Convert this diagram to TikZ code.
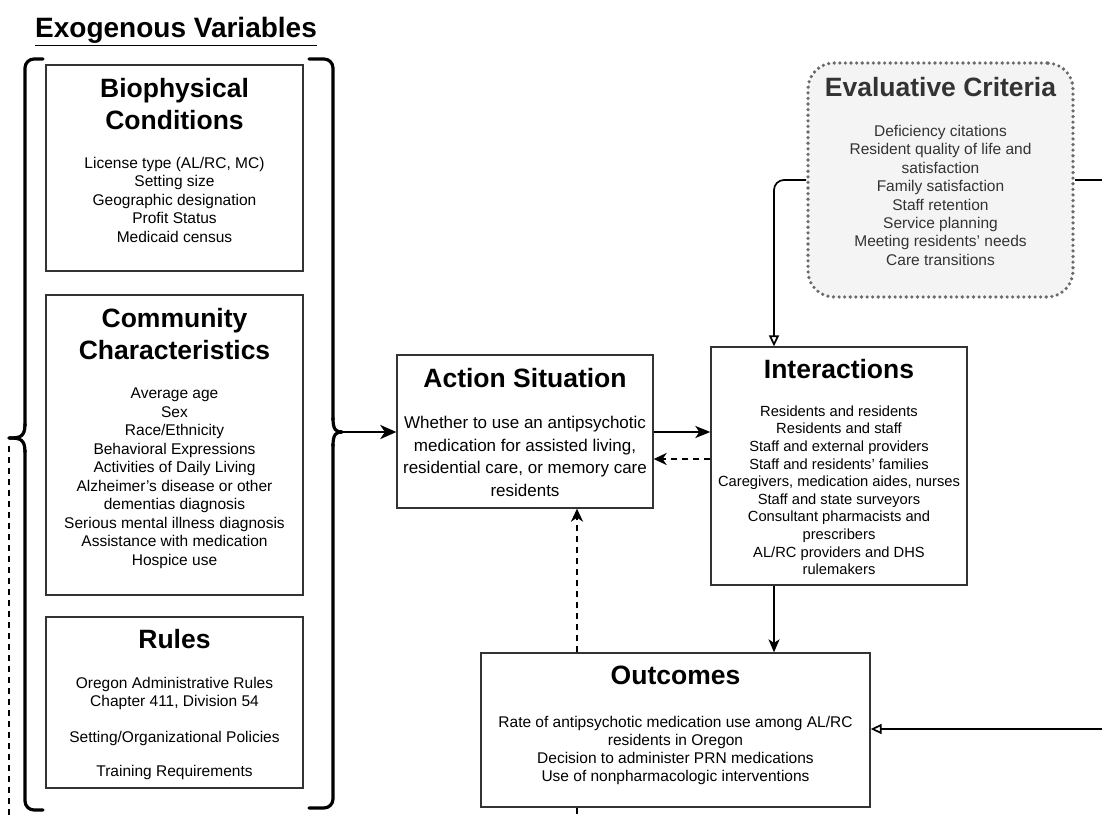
\documentclass[tikz,border=0pt]{standalone}
\usepackage{fontspec}
\setmainfont{Liberation Sans}
\usetikzlibrary{arrows.meta}
\definecolor{boxline}{HTML}{333333}
\definecolor{evalfill}{HTML}{F4F4F4}
\definecolor{evaldot}{HTML}{6A6A6A}
\definecolor{evaltext}{HTML}{333333}
\tikzset{
  box/.style={draw=boxline, line width=1.3pt, inner sep=0pt, rectangle},
  head/.style={font=\fontsize{26.5}{32}\selectfont\bfseries, align=center, inner sep=0pt, anchor=north},
  body/.style={font=\fontsize{15.5}{18.5}\selectfont, align=center, inner sep=0pt, anchor=north},
  brace/.style={line width=3.2pt, line cap=round, line join=round},
  mainarrow/.style={line width=2.8pt, -{Stealth[length=16pt,width=14pt,inset=4.5pt]}},
  midarrow/.style={line width=2.3pt, -{Stealth[length=15pt,width=12pt,inset=4pt]}},
  dasharrow/.style={line width=2.2pt, dash pattern=on 6pt off 5pt, -{Stealth[length=13pt,width=12pt,inset=4pt]}},
  thinarrow/.style={line width=1.8pt, -{Stealth[length=13pt,width=11pt,inset=3.5pt]}},
  openarrow/.style={line width=1.7pt, -{Triangle[open,length=11pt,width=10pt]}},
  dashline/.style={line width=2.2pt, dash pattern=on 6pt off 5pt},
}
\begin{document}
\begin{tikzpicture}[x=1pt,y=-1pt]
\useasboundingbox (0,0) rectangle (1102,818);

% title
\node[head, font=\fontsize{28}{32}\selectfont\bfseries] (exo) at (176,17) {\underline{Exogenous Variables}};

% boxes
\node[box, minimum width=257pt, minimum height=206pt] (bio) at (174.5,168) {};
\node[box, minimum width=257pt, minimum height=300pt] (comm) at (174.5,445) {};
\node[box, minimum width=257pt, minimum height=171pt] (rules) at (174.5,702.5) {};
\node[box, minimum width=256pt, minimum height=153pt] (action) at (525,431.5) {};
\node[box, minimum width=256pt, minimum height=238pt] (inter) at (839,466) {};
\node[box, minimum width=389pt, minimum height=154pt] (out) at (675.5,730) {};

% evaluative criteria
\fill[evalfill, rounded corners=26pt] (808,63) rectangle (1073,297);
\node[inner sep=0pt, minimum width=265pt, minimum height=234pt, draw=evaldot, line width=3.6pt,
      dash pattern=on 0pt off 5.6pt, line cap=round, rounded corners=26pt] (eval) at (940.5,180) {};

% texts
\node[head] (biot) at (174.5,78) {Biophysical\\Conditions};
\node[body] (biob) at (174.5,157) {License type (AL/RC, MC)\\Setting size\\Geographic designation\\Profit Status\\Medicaid census};

\node[head] (commt) at (174.5,308) {Community\\Characteristics};
\node[body] (commb) at (174.5,388) {Average age\\Sex\\Race/Ethnicity\\Behavioral Expressions\\Activities of Daily Living\\Alzheimer's disease or other\\dementias diagnosis\\Serious mental illness diagnosis\\Assistance with medication\\Hospice use};

\node[head] (rulest) at (174.5,629) {Rules};
\node[body] (rulesb1) at (174.5,677) {Oregon Administrative Rules\\Chapter 411, Division 54};
\node[body] (rulesb2) at (174.5,731) {Setting/Organizational Policies};
\node[body] (rulesb3) at (174.5,765) {Training Requirements};

\node[head] (actiont) at (525,368) {Action Situation};
\node[body, font=\fontsize{17}{22.6}\selectfont] (actionb) at (525,416) {Whether to use an antipsychotic\\medication for assisted living,\\residential care, or memory care\\residents};

\node[head] (intert) at (839,359) {Interactions};
\node[body, font=\fontsize{14.7}{17.6}\selectfont] (interb) at (839,405.5) {Residents and residents\\Residents and staff\\Staff and external providers\\Staff and residents' families\\Caregivers, medication aides, nurses\\Staff and state surveyors\\Consultant pharmacists and\\prescribers\\AL/RC providers and DHS\\rulemakers};

\node[head] (outt) at (675.5,666) {Outcomes};
\node[body, font=\fontsize{15.5}{18}\selectfont] (outb) at (675.5,716) {Rate of antipsychotic medication use among AL/RC\\residents in Oregon\\Decision to administer PRN medications\\Use of nonpharmacologic interventions};

\node[head, text=evaltext] (evalt) at (940.5,77) {Evaluative Criteria};
\node[body, text=evaltext, font=\fontsize{15.5}{18.4}\selectfont] (evalb) at (940.5,125) {Deficiency citations\\Resident quality of life and\\satisfaction\\Family satisfaction\\Staff retention\\Service planning\\Meeting residents' needs\\Care transitions};

% braces
\coordinate (lcusp) at (9,438);
\coordinate (rcusp) at (342,432);
\draw[brace, rounded corners=9pt] (43,59) -- (25,59) -- (25,426);
\draw[brace] (25,424) .. controls (25,437) and (20,438) .. (lcusp);
\draw[brace] (lcusp) .. controls (20,438) and (25,439) .. (25,452);
\draw[brace, rounded corners=9pt] (25,450) -- (25,810) -- (43,810);

\draw[brace, rounded corners=9pt] (309,59) -- (333,59) -- (333,420);
\draw[brace] (333,418) .. controls (333,430) and (336,432) .. (rcusp);
\draw[brace] (rcusp) .. controls (336,432) and (333,434) .. (333,446);
\draw[brace, rounded corners=9pt] (333,444) -- (333,808) -- (309,808);

% connectors
\coordinate (dashx) at (577,0);
\coordinate (colx) at (774,0);
\coordinate (lbot) at (9,818);
\coordinate (obot) at (577,818);
\coordinate (redge) at (1102,180);
\coordinate (redge2) at (1102,729);

\draw[mainarrow] (rcusp) -- (action.west |- rcusp);
\draw[midarrow] (action.east |- 0,432) -- (inter.west |- 0,432);
\draw[dasharrow] (inter.west |- 0,459) -- (action.east |- 0,459);
\draw[dasharrow] (out.north -| dashx) -- (action.south -| dashx);
\draw[thinarrow] (inter.south -| colx) -- (out.north -| colx);
\draw[openarrow, rounded corners=10pt] (eval.west) -- (colx |- eval.west) -- (inter.north -| colx);
\draw[line width=1.7pt] (eval.east) -- (redge);
\draw[openarrow] (redge2) -- (out.east |- redge2);
\draw[dashline] (9,446) -- (lbot);
\draw[dashline] (out.south -| dashx) -- (obot);
\end{tikzpicture}
\end{document}
